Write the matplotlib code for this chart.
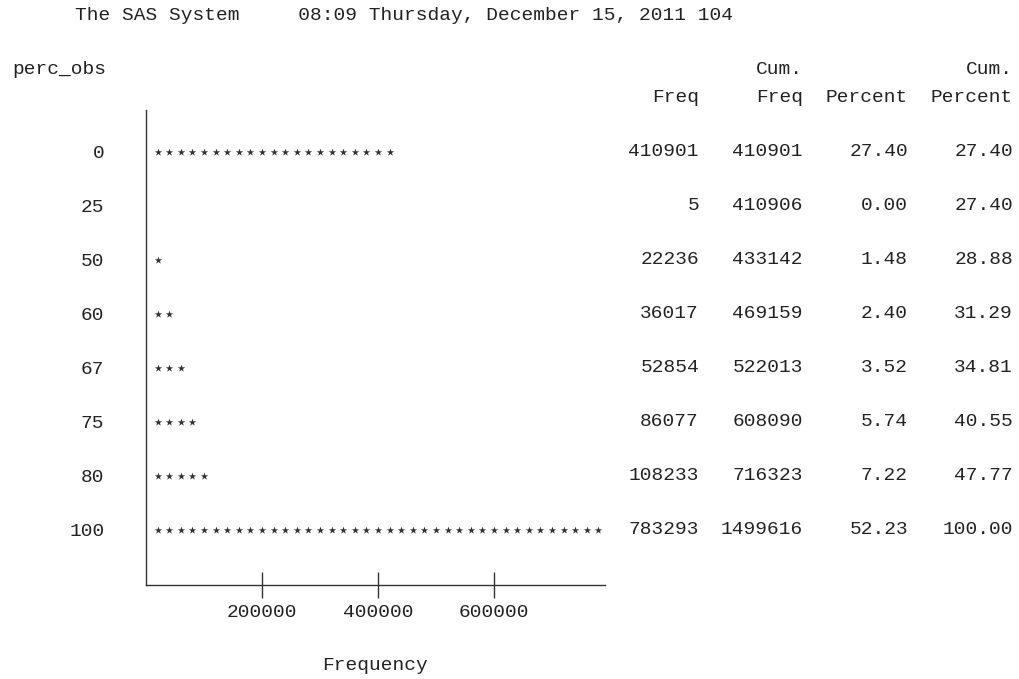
'''
SAS PROC CHART style horizontal bar chart of perc_obs with the frequency table
'''
import matplotlib
matplotlib.use('Agg')
import matplotlib.pyplot as plt
import matplotlib.transforms as mtransforms

#-----------------------------------
# Values read from the listing
perc_obs = [0, 25, 50, 60, 67, 75, 80, 100]
freq = [410901, 5, 22236, 36017, 52854, 86077, 108233, 783293]
cum_freq = [410901, 410906, 433142, 469159, 522013, 608090, 716323, 1499616]
percent = [27.40, 0.00, 1.48, 2.40, 3.52, 5.74, 7.22, 52.23]
cum_percent = [27.40, 27.40, 28.88, 31.29, 34.81, 40.55, 47.77, 100.00]
n_stars = [21, 0, 1, 2, 3, 4, 5, 39]  # stars drawn on each row
star_unit = 20000  # frequency for one star
x_ticks = [200000, 400000, 600000]

title = "The SAS System     08:09 Thursday, December 15, 2011 104"
#-----------------------------------

W, H = 1020, 679
txt_color = '#222222'
font = ['Liberation Mono', 'DejaVu Sans Mono']
fs = 14

def fx(px):
    return px / W

def fy(py):
    return 1 - py / H

fig = plt.figure(figsize=(W / 100, H / 100), dpi=100)
fig.patch.set_facecolor('white')

# Axes box: left axis line at x=146px, from y=110px down to 585px
ax = fig.add_axes([fx(146), fy(585), fx(605) - fx(146), fy(110) - fy(585)])
row_px0, row_step = 152, 54
ax.set_ylim((585 - row_px0) / row_step, (110 - row_px0) / row_step)
ax.set_xlim(0, (605 - 146) / 116 * 200000)

# the stars
for i, n in enumerate(n_stars):
    xs = [k * star_unit for k in range(1, n + 1)]
    ax.scatter(xs, [i] * n, marker='*', s=32, color='#333333', linewidths=0, clip_on=False)

for side in ['top', 'right']:
    ax.spines[side].set_visible(False)
for side in ['left', 'bottom']:
    ax.spines[side].set_color('#333333')
    ax.spines[side].set_linewidth(1.0)

ax.set_xticks(x_ticks)
ax.set_xticklabels([str(t) for t in x_ticks], fontfamily=font, fontsize=fs, color=txt_color)
ax.tick_params(axis='x', direction='inout', length=19, width=1, color='#333333', pad=4)

ax.set_yticks(range(len(perc_obs)))
ax.set_yticklabels([str(p) for p in perc_obs], fontfamily=font, fontsize=fs, color=txt_color)
ax.tick_params(axis='y', length=0, pad=30)

ax.set_xlabel('Frequency', fontfamily=font, fontsize=fs, color=txt_color, labelpad=26)

# Title and headers
fig.text(fx(75), fy(16), title, fontfamily=font, fontsize=fs, color=txt_color, va='center', ha='left')
fig.text(fx(12), fy(70), 'perc_obs', fontfamily=font, fontsize=fs, color=txt_color, va='center', ha='left')

col_right = [699, 803, 908, 1013]
headers_top = ['', 'Cum.', '', 'Cum.']
headers_bot = ['Freq', 'Freq', 'Percent', 'Percent']
for xr, h1, h2 in zip(col_right, headers_top, headers_bot):
    fig.text(fx(xr), fy(70), h1, fontfamily=font, fontsize=fs, color=txt_color, va='center', ha='right')
    fig.text(fx(xr), fy(97), h2, fontfamily=font, fontsize=fs, color=txt_color, va='center', ha='right')

# Table values aligned on the chart rows
trans = mtransforms.blended_transform_factory(fig.transFigure, ax.transData)
for i in range(len(perc_obs)):
    row = [str(freq[i]), str(cum_freq[i]), f"{percent[i]:.2f}", f"{cum_percent[i]:.2f}"]
    for xr, s in zip(col_right, row):
        ax.text(fx(xr), i, s, transform=trans, fontfamily=font, fontsize=fs,
                color=txt_color, va='center', ha='right', clip_on=False)

fig.savefig('out.png', dpi=100, facecolor='white')
